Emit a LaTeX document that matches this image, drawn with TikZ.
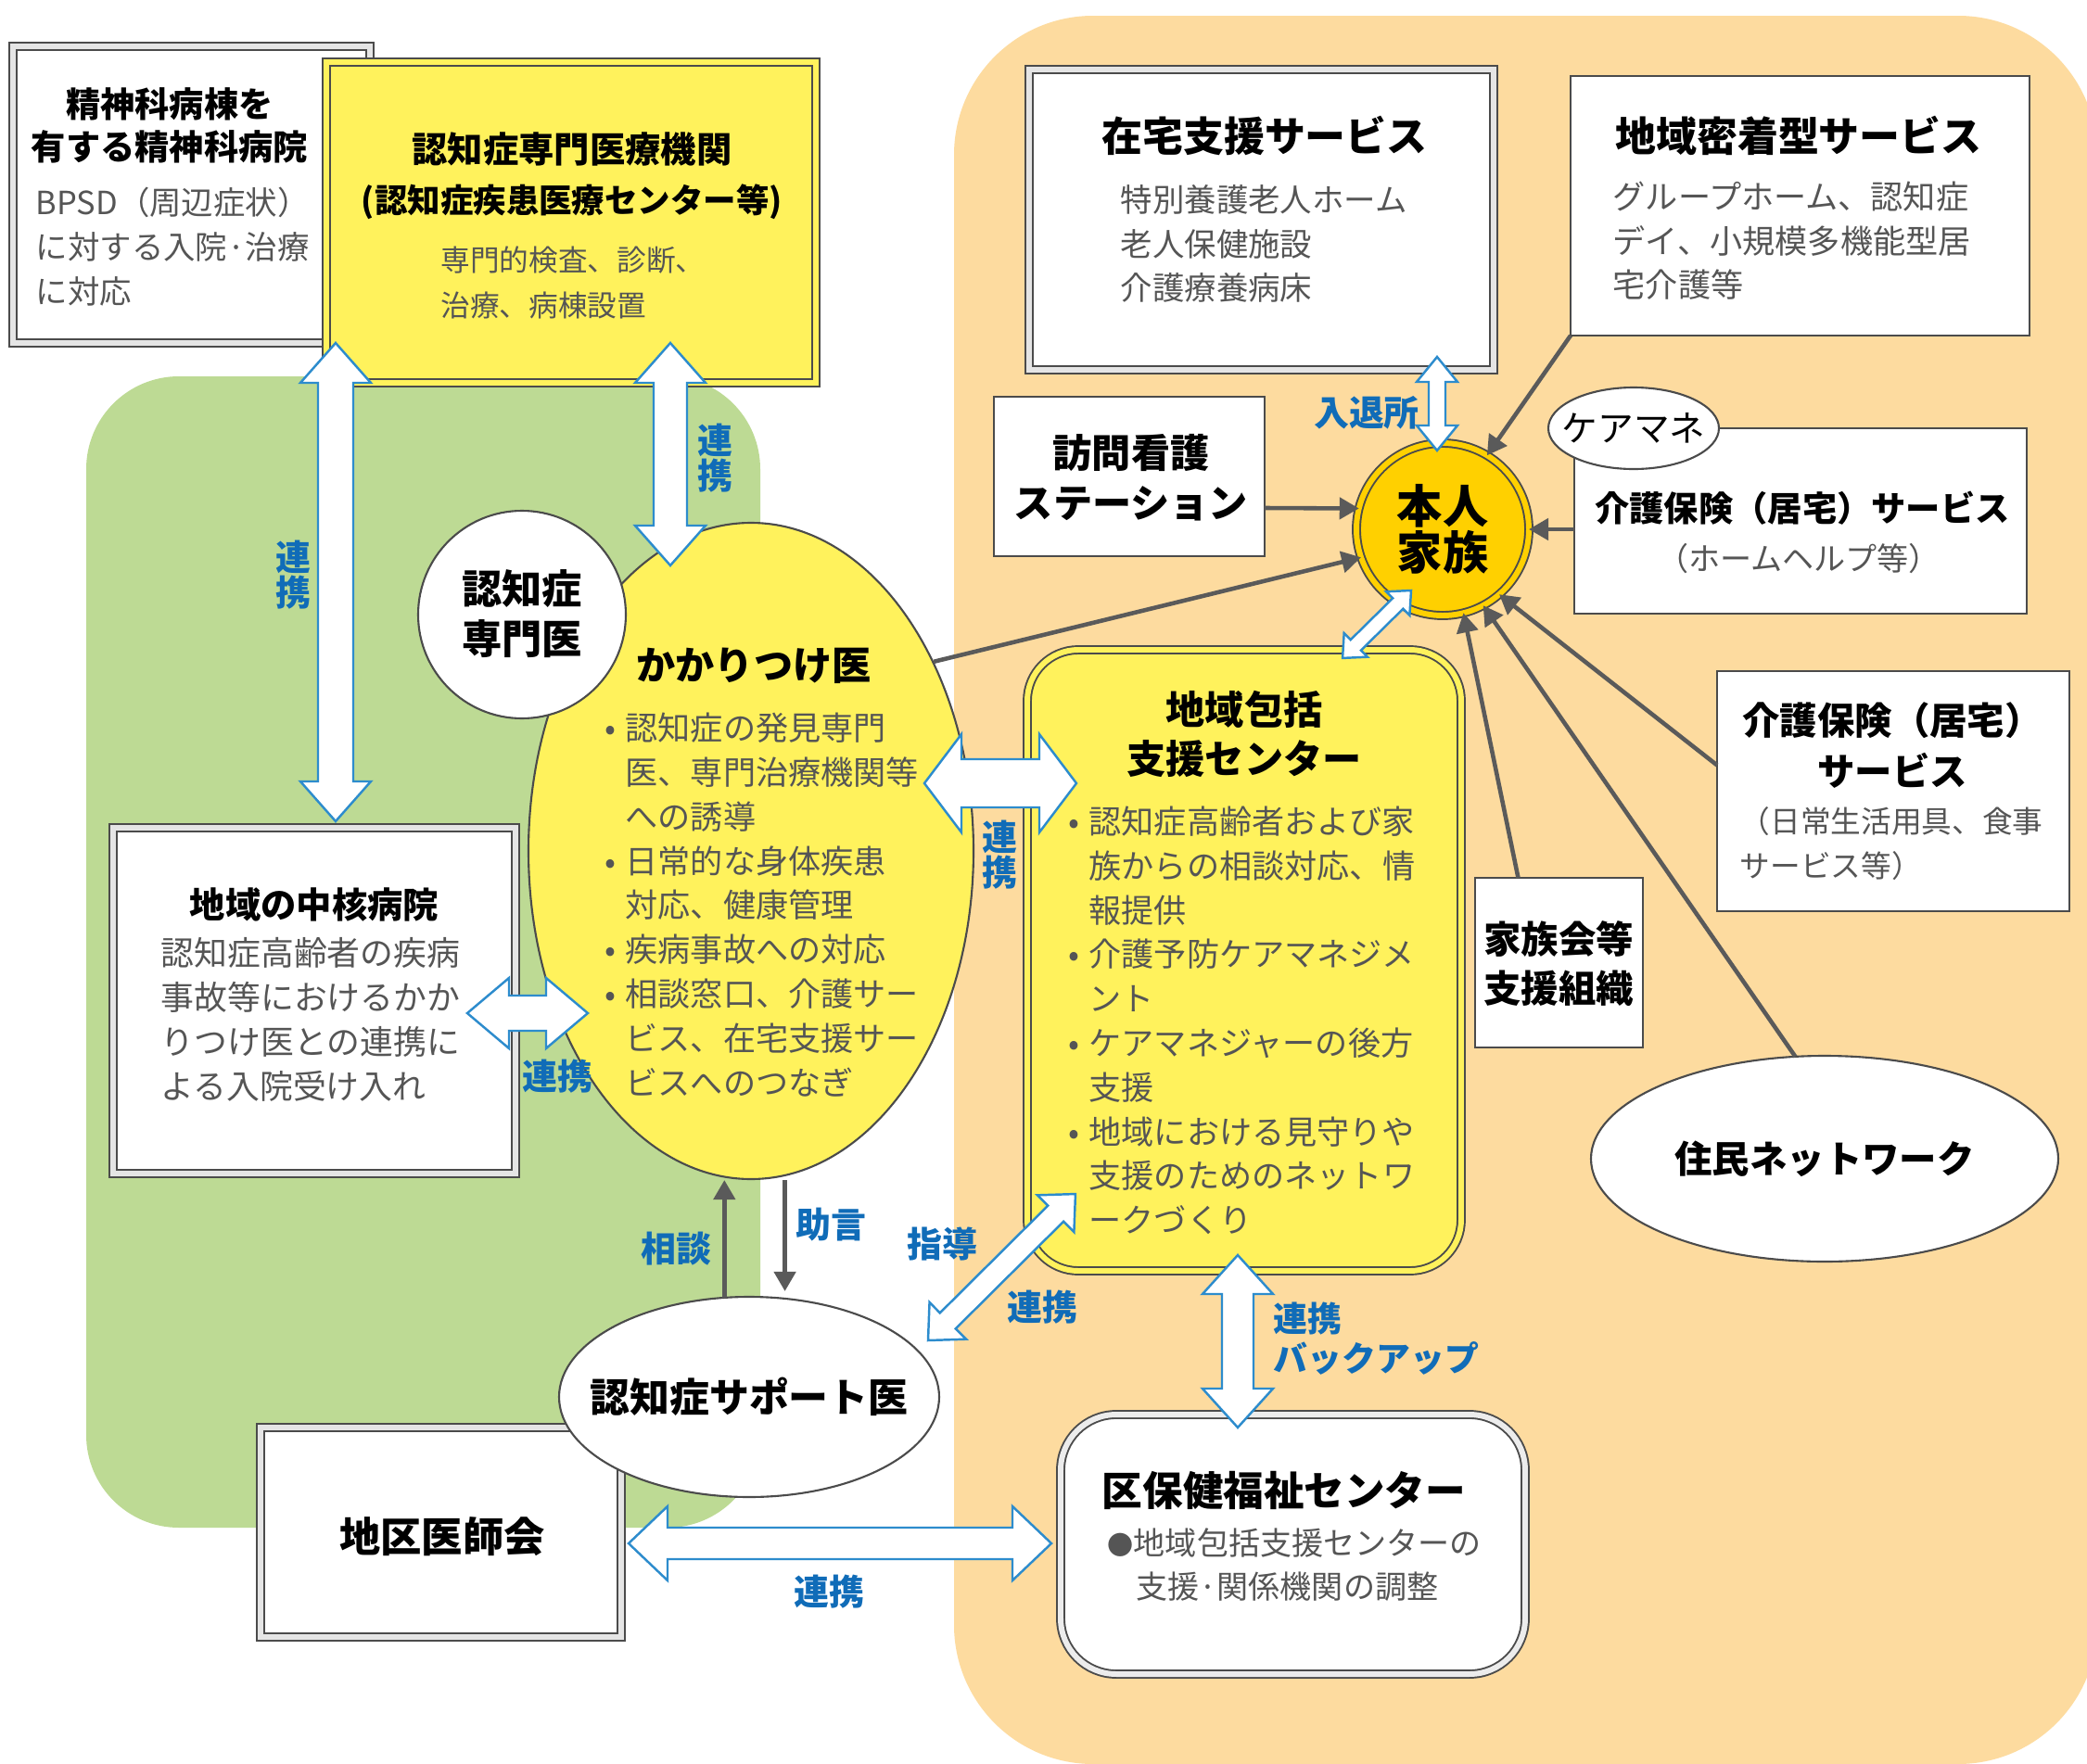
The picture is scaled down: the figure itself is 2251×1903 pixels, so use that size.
\documentclass[tikz,border=0pt]{standalone}
\usepackage{fontspec}
\setmainfont{Noto Sans CJK JP}
\usetikzlibrary{calc,shapes.geometric,arrows.meta}
\definecolor{greenbg}{RGB}{189,218,148}
\definecolor{orangebg}{RGB}{253,219,159}
\definecolor{yel}{RGB}{255,242,92}
\definecolor{gold}{RGB}{255,208,0}
\definecolor{lblblue}{RGB}{16,108,184}
\definecolor{arrblue}{RGB}{45,140,205}
\definecolor{conngray}{RGB}{90,90,90}
\definecolor{linegray}{RGB}{75,75,75}
\definecolor{bodygray}{RGB}{85,85,85}
\newcommand{\myfs}[2]{\fontsize{#1}{#2}\selectfont}
\newcommand{\bul}{\makebox[2.2mm][l]{•}}
\newcommand{\ind}{\hspace*{2.2mm}}
\tikzset{
  box/.style={draw=linegray, line width=0.6pt, fill=white, inner sep=0pt, outer sep=0pt},
  dblbox/.style={draw=linegray, line width=0.55pt, double=#1, double distance=1.7pt, fill=white, inner sep=0pt, outer sep=0pt},
  dblbox/.default=white,
  txt/.style={inner sep=0pt, align=center, text=black},
  bdy/.style={inner sep=0pt, align=left, anchor=west, text=bodygray},
  lbl/.style={inner sep=0pt, align=center, text=lblblue, font=\bfseries\myfs{10.8}{11}},
  conn/.style={draw=conngray, line width=1.3pt, -{Triangle[length=2.1mm,width=2.3mm]}},
  blockarr/.style={fill=white, draw=arrblue, line width=0.7pt, line join=miter},
}
\newcommand{\blockarrow}[5]{%
  \draw[blockarr] let \p1=(#1), \p3=($(#2)-(#1)$),
    \n1={atan2(\y3,\x3)}, \n2={veclen(\x3,\y3)} in
    ([shift={(\p1)},rotate=\n1]0pt,0pt)
 -- ([shift={(\p1)},rotate=\n1]#5,#4)
 -- ([shift={(\p1)},rotate=\n1]#5,#3)
 -- ([shift={(\p1)},rotate=\n1]{\n2*1pt-#5},#3)
 -- ([shift={(\p1)},rotate=\n1]{\n2*1pt-#5},#4)
 -- ([shift={(\p1)},rotate=\n1]{\n2*1pt},0pt)
 -- ([shift={(\p1)},rotate=\n1]{\n2*1pt-#5},-#4)
 -- ([shift={(\p1)},rotate=\n1]{\n2*1pt-#5},-#3)
 -- ([shift={(\p1)},rotate=\n1]#5,-#3)
 -- ([shift={(\p1)},rotate=\n1]#5,-#4)
 -- cycle;}
\begin{document}
\begin{tikzpicture}[x=0.1mm,y=-0.1mm]
\useasboundingbox (0,0) rectangle (2251,1903);
\fill[white] (0,0) rectangle (2251,1903);
\fill[greenbg, rounded corners=10mm] (93,406) rectangle (820,1648);
\fill[orangebg, rounded corners=15mm] (1029,17) rectangle (2262,1903);

% left top boxes
\node[dblbox=gray!20, minimum width=38.5mm, minimum height=32mm] (seishin) at (206.5,210) {};
\node[txt, font=\bfseries\myfs{10.6}{13.1}] (seishinT) at (183,135) {精神科病棟を\\有する精神科病院};
\node[bdy, font=\myfs{9.8}{13.7}] (seishinB) at (38,266) {BPSD（周辺症状）\\に対する入院·治療\\に対応};

\node[dblbox=yel, fill=yel, minimum width=52.8mm, minimum height=34.6mm] (senmon) at (616,240) {};
\node[txt, font=\bfseries\myfs{10.9}{15.5}] (senmonT) at (617,190) {認知症専門医療機関\\{\myfs{10.1}{15.5}(認知症疾患医療センター等)}};
\node[bdy, font=\myfs{9}{13.9}] (senmonB) at (475,305) {専門的検査、診断、\\治療、病棟設置};

% right top boxes
\node[dblbox=gray!20, minimum width=50.1mm, minimum height=32.4mm] (zaitaku) at (1360.5,237) {};
\node[txt, font=\bfseries\myfs{12.5}{15}] (zaitakuT) at (1364,146) {在宅支援サービス};
\node[bdy, font=\myfs{9.8}{13.5}] (zaitakuB) at (1208,263) {特別養護老人ホーム\\老人保健施設\\介護療養病床};

\node[box, minimum width=49.5mm, minimum height=28mm] (mitchaku) at (1941.5,222) {};
\node[txt, font=\bfseries\myfs{12.5}{15}] (mitchakuT) at (1940,146) {地域密着型サービス};
\node[bdy, font=\myfs{10}{13.5}] (mitchakuB) at (1739,260) {グループホーム、認知症\\デイ、小規模多機能型居\\宅介護等};

\node[box, minimum width=29.2mm, minimum height=17.2mm] (houmon) at (1218,514) {};
\node[txt, font=\bfseries\myfs{12}{15.5}] (houmonT) at (1220,515) {訪問看護\\ステーション};

\node[box, minimum width=48.8mm, minimum height=20mm] (kaigoA) at (1942,562) {};
\node[txt, font=\bfseries\myfs{10.6}{14}] (kaigoAT) at (1944,548) {介護保険（居宅）サービス};
\node[txt, text=bodygray, font=\myfs{9.7}{12}] (kaigoAB) at (1940,603) {（ホームヘルプ等）};
\node[ellipse, box, minimum width=18.4mm, minimum height=8.8mm] (caremane) at (1762,462) {};
\node[txt, font=\myfs{11}{13}] (caremaneT) at (1762,462) {ケアマネ};

\node[box, minimum width=38mm, minimum height=25.9mm] (kaigoB) at (2042,853.5) {};
\node[txt, font=\bfseries\myfs{11.5}{15.5}] (kaigoBT) at (2041,804) {介護保険（居宅）\\サービス};
\node[bdy, font=\myfs{9.3}{13.5}] (kaigoBB) at (1876,910) {（日常生活用具、食事\\サービス等）};

\node[box, minimum width=18.1mm, minimum height=18.3mm] (kazoku) at (1681.5,1038.5) {};
\node[txt, font=\bfseries\myfs{11.5}{15.1}] (kazokuT) at (1681,1040) {家族会等\\支援組織};

\node[ellipse, box, minimum width=50.4mm, minimum height=22.2mm] (jumin) at (1968,1250) {};
\node[txt, font=\bfseries\myfs{11.5}{14}] (juminT) at (1968,1250) {住民ネットワーク};

% center right
\node[dblbox=yel, fill=yel, rounded corners=5.5mm, minimum width=46.8mm, minimum height=67mm] (houkatsu) at (1342,1036) {};
\node[txt, font=\bfseries\myfs{12}{15.1}] (houkatsuT) at (1342,792) {地域包括\\支援センター};
\node[bdy, font=\myfs{10}{13.6}] (houkatsuB) at (1152,1101) {\bul 認知症高齢者および家\\
\ind 族からの相談対応、情\\
\ind 報提供\\
\bul 介護予防ケアマネジメ\\
\ind ント\\
\bul ケアマネジャーの後方\\
\ind 支援\\
\bul 地域における見守りや\\
\ind 支援のためのネットワ\\
\ind ークづくり};

\node[dblbox=gray!15, rounded corners=6mm, minimum width=50.1mm, minimum height=28mm] (kuhoken) at (1394.5,1666) {};
\node[txt, font=\bfseries\myfs{12.4}{15}] (kuhokenT) at (1385,1608) {区保健福祉センター};
\node[bdy, font=\myfs{9.7}{13.5}] (kuhokenB) at (1194,1688) {{\myfs{8}{13.5}●}地域包括支援センターの\\\hspace*{0.9em}支援·関係機関の調整};

% left middle
\node[dblbox=gray!20, minimum width=43.4mm, minimum height=37.3mm] (chukaku) at (339,1079.5) {};
\node[txt, font=\bfseries\myfs{10.9}{13}] (chukakuT) at (339,976) {地域の中核病院};
\node[bdy, font=\myfs{10.2}{13.6}] (chukakuB) at (173,1100) {認知症高齢者の疾病\\事故等におけるかか\\りつけ医との連携に\\よる入院受け入れ};

\node[ellipse, draw=linegray, line width=0.6pt, fill=yel, inner sep=0pt, minimum width=48mm, minimum height=70.8mm] (kaka) at (810,918) {};
\node[txt, font=\bfseries\myfs{12}{14}] (kakaT) at (813,718) {かかりつけ医};
\node[bdy, font=\myfs{10}{13.6}] (kakaB) at (652,976) {\bul 認知症の発見専門\\
\ind 医、専門治療機関等\\
\ind への誘導\\
\bul 日常的な身体疾患\\
\ind 対応、健康管理\\
\bul 疾病事故への対応\\
\bul 相談窓口、介護サー\\
\ind ビス、在宅支援サー\\
\ind ビスへのつなぎ};

\node[circle, box, minimum size=22.4mm] (ninchi) at (563,663) {};
\node[txt, font=\bfseries\myfs{12.3}{15.5}] (ninchiT) at (563,662) {認知症\\専門医};

\node[dblbox=gray!20, minimum width=38.9mm, minimum height=22.6mm] (chiku) at (475.5,1653) {};
\node[txt, font=\bfseries\myfs{12.6}{15}] (chikuT) at (477,1658) {地区医師会};

\node[ellipse, box, minimum width=41mm, minimum height=21.6mm] (support) at (808,1507) {};
\node[txt, font=\bfseries\myfs{12.2}{15}] (supportT) at (808,1507) {認知症サポート医};

\node[circle, dblbox=gold, fill=gold, minimum size=18.6mm] (honin) at (1556,571) {};
\node[txt, font=\bfseries\myfs{14}{14.3}] (honinT) at (1556,571) {本人\\家族};

% gray connectors
\draw[conn] ([yshift=-3.4mm]houmon.east) -- (honin.166);
\draw[conn] (kaka.46) -- (honin.199);
\draw[conn] (mitchaku.south west) -- (honin.59);
\draw[conn] (kaigoA.west |- honin.east) -- (honin.east);
\draw[conn] ([xshift=-4.4mm]kazoku.north) -- (honin.284);
\draw[conn] (jumin.106) -- (honin.298);
\draw[conn] ([yshift=2.8mm]kaigoB.west) -- (honin.311);
\draw[conn] (support.104) -- (support.104 |- kaka.south);
\draw[conn] (support.70 |- kaka.south) -- ([yshift=0.8mm]support.70);

% block arrows
\coordinate (A1) at (362,370);   \coordinate (A2) at (362,886);
\coordinate (B1) at (723,370);   \coordinate (B2) at (723,610);
\coordinate (C1) at (997,845);   \coordinate (C2) at (1161,845);
\coordinate (D1) at (504,1093);  \coordinate (D2) at (634,1093);
\coordinate (E1) at (1001,1446); \coordinate (E2) at (1160,1288);
\coordinate (F1) at (1335,1354); \coordinate (F2) at (1335,1540);
\coordinate (G1) at (678,1665);  \coordinate (G2) at (1134,1665);
\coordinate (H1) at (1550,385);  \coordinate (H2) at (1550,486);
\coordinate (I1) at (1522,637);  \coordinate (I2) at (1448,710);
\blockarrow{A1}{A2}{1.9mm}{3.8mm}{4.3mm}
\blockarrow{B1}{B2}{1.8mm}{3.8mm}{4.3mm}
\blockarrow{C1}{C2}{2.6mm}{5.3mm}{4.0mm}
\blockarrow{D1}{D2}{1.9mm}{3.8mm}{4.5mm}
\blockarrow{E1}{E2}{1.2mm}{2.8mm}{3.0mm}
\blockarrow{F1}{F2}{1.7mm}{3.8mm}{4.2mm}
\blockarrow{G1}{G2}{1.7mm}{4.0mm}{4.2mm}
\blockarrow{H1}{H2}{0.9mm}{2.2mm}{2.7mm}
\blockarrow{I1}{I2}{0.8mm}{1.8mm}{2.0mm}

% labels
\node[lbl] (lblA) at (316,620) {連\\携};
\node[lbl] (lblB) at (771,494) {連\\携};
\node[lbl] (lblC) at (1078,922) {連\\携};
\node[lbl] (lblD) at (601,1161) {連携};
\node[lbl] (lblE1) at (1016,1342) {指導};
\node[lbl] (lblE2) at (1124,1410) {連携};
\node[lbl, align=left, anchor=west, font=\bfseries\myfs{10.5}{12.2}] (lblF) at (1373,1444) {連携\\バックアップ};
\node[lbl] (lblG) at (894,1717) {連携};
\node[lbl] (lblH) at (1474,445) {入退所};
\node[lbl] (lblSoudan) at (729,1347) {相談};
\node[lbl] (lblJogen) at (896,1321) {助言};
\end{tikzpicture}
\end{document}
